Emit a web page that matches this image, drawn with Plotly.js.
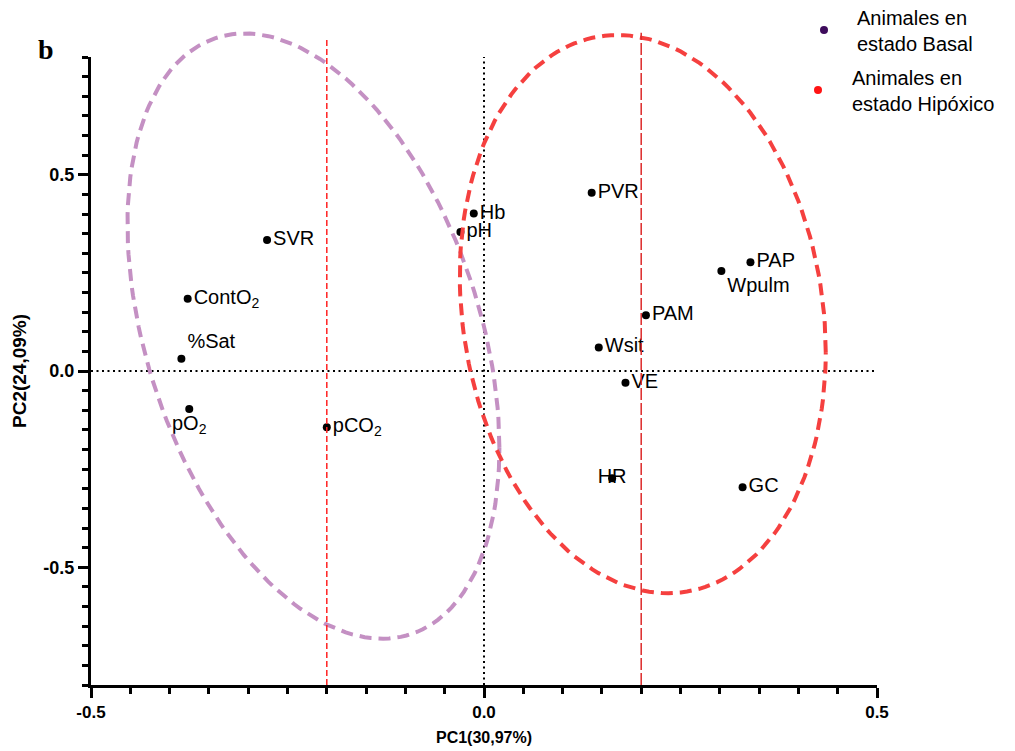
<!DOCTYPE html>
<html><head><meta charset="utf-8">
<script src="https://cdn.plot.ly/plotly-3.0.1.min.js"></script>
<style>html,body{margin:0;padding:0;background:#fff}#chart{width:1015px;height:751px}</style>
</head><body><div id="chart"></div>
<script>
// ---- data ----
const variables = ['SVR','ContO<sub>2</sub>','%Sat','pO<sub>2</sub>','pCO<sub>2</sub>','Hb','pH','PVR','PAP','Wpulm','PAM','Wsit','VE','HR','GC'];
const pc1 = [-0.276,-0.377,-0.385,-0.375,-0.200,-0.013,-0.030,0.137,0.339,0.302,0.206,0.146,0.180,0.163,0.329];
const pc2 = [0.334,0.184,0.031,-0.097,-0.143,0.401,0.354,0.454,0.277,0.255,0.142,0.060,-0.030,-0.273,-0.296];

const groupNames = ['Animales en<br>estado Basal','Animales en<br>estado Hipóxico'];
const groupMeanPC1 = [-0.2, 0.2];
const refLineTop = [0.85, 0.862];
// confidence ellipses: x = cx + hx*cos t ; y = cy + sy*cos t + hy*sin t
const ellipseCenterX = [-0.217, 0.202];
const ellipseCenterY = [0.089, 0.145];
const ellipseHalfX = [0.2366, 0.2328];
const ellipseShearY = [-0.285, -0.0970];
const ellipseHalfY = [0.7164, 0.7044];

const xTickVals = [-0.5, 0, 0.5];
const xTickText = ['-0.5','0.0','0.5'];
const yTickVals = [-0.5, 0, 0.5];
const yTickText = ['-0.5','0.0','0.5'];
const xRange = [-0.5, 0.5];
const yRange = [-0.8, 0.8];

// ---- styles / layout positions (pixels) ----
const labelPositions = ['middle right','middle right','top right','bottom center','middle right','middle right','middle right','middle right','middle right','bottom right','middle right','middle right','middle right','middle center','middle right'];
const groupMarkerColors = ['#3e0b5c','#ff1414'];
const ellipseColors = ['#c490c3','#f5403f'];
const refLineColors = ['#ff2222','#dd2a2a'];
const refLineDash = ['6px,3px','12px,3px'];
const legendMarkerPx = [[824, 30], [818, 90]];
const legendTextLeftPx = [855, 850];
const legendTextMidPx = [31, 91];

const mL = 91, mR = 138, mT = 10, mB = 66, W = 1015, H = 751;
const plotW = W - mL - mR, plotH = H - mT - mB;
const yTopFrac = (H - mB - 57) / plotH;
const y2Max = yRange[0] + (yRange[1] - yRange[0]) / yTopFrac;
const px2paperX = px => (px - mL) / plotW;
const py2paperY = py => (H - mB - py) / plotH;

const traces = [];

for (let g = 0; g < 2; g++) {
  const ex = [], ey = [];
  for (let k = 0; k <= 180; k++) {
    const t = k * 2 * Math.PI / 180;
    ex.push(ellipseCenterX[g] + ellipseHalfX[g] * Math.cos(t));
    ey.push(ellipseCenterY[g] + ellipseShearY[g] * Math.cos(t) + ellipseHalfY[g] * Math.sin(t));
  }
  traces.push({x: ex, y: ey, xaxis: 'x', yaxis: 'y2', mode: 'lines', showlegend: false, hoverinfo: 'skip',
    line: {color: ellipseColors[g], width: 4, dash: '12px,7px'}});
  traces.push({x: [groupMeanPC1[g], groupMeanPC1[g]], y: [yRange[0], refLineTop[g]], xaxis: 'x', yaxis: 'y2',
    mode: 'lines', showlegend: false, hoverinfo: 'skip',
    line: {color: refLineColors[g], width: 1.5, dash: refLineDash[g]}});
}

traces.push({
  x: pc1, y: pc2, text: variables, mode: 'markers+text', textposition: labelPositions,
  xaxis: 'x', yaxis: 'y', showlegend: false, cliponaxis: false,
  marker: {color: '#000', size: 8},
  textfont: {family: '"Liberation Sans", Arial, sans-serif', size: 20, color: '#000'}
});

const axisCommon = {
  ticks: 'outside', ticklen: 10, tickwidth: 3, tickcolor: '#000',
  showline: true, linewidth: 3, linecolor: '#000', showgrid: false, zeroline: false, fixedrange: true,
  tickmode: 'array',
  minor: {tickmode: 'linear', tick0: 0, dtick: 0.05, ticks: 'outside', ticklen: 6, tickwidth: 3, tickcolor: '#000', showgrid: false}
};

const shapes = [
  {type: 'line', xref: 'x', yref: 'y', x0: xRange[0], x1: xRange[1], y0: 0, y1: 0, layer: 'below',
    line: {color: '#000', width: 2, dash: '2px,3.5px'}},
  {type: 'line', xref: 'x', yref: 'y', x0: 0, x1: 0, y0: yRange[0], y1: yRange[1], layer: 'below',
    line: {color: '#000', width: 2, dash: '2px,3.5px'}}
];
const annotations = [
  {text: '<b>b</b>', xref: 'paper', yref: 'paper', x: px2paperX(46), y: py2paperY(49),
    xanchor: 'center', yanchor: 'middle', showarrow: false,
    font: {family: '"Liberation Serif", "Times New Roman", serif', size: 28, color: '#000'}}
];
for (let g = 0; g < 2; g++) {
  shapes.push({type: 'circle', xref: 'paper', yref: 'paper', xsizemode: 'pixel', ysizemode: 'pixel',
    xanchor: px2paperX(legendMarkerPx[g][0]), yanchor: py2paperY(legendMarkerPx[g][1]),
    x0: -4, x1: 4, y0: -4, y1: 4, fillcolor: groupMarkerColors[g], line: {width: 0}});
  annotations.push({text: groupNames[g], xref: 'paper', yref: 'paper', x: px2paperX(legendTextLeftPx[g]),
    y: py2paperY(legendTextMidPx[g]), xanchor: 'left', yanchor: 'middle', align: 'left', showarrow: false,
    font: {family: '"Liberation Sans", Arial, sans-serif', size: 20, color: '#000'}});
}

const layout = {
  width: W, height: H,
  margin: {l: mL, r: mR, t: mT, b: mB},
  paper_bgcolor: '#fff', plot_bgcolor: 'rgba(0,0,0,0)',
  font: {family: '"Liberation Sans", Arial, sans-serif', color: '#000'},
  showlegend: false,
  xaxis: Object.assign({}, axisCommon, {
    domain: [0, 1], range: xRange, anchor: 'y', tickvals: xTickVals, ticktext: xTickText,
    tickfont: {family: '"Liberation Sans Narrow", "Arial Narrow", "Liberation Sans", sans-serif', size: 17, weight: 'bold', color: '#000'},
    title: {text: 'PC1(30,97%)', standoff: 11,
      font: {family: '"Liberation Sans Narrow", "Arial Narrow", "Liberation Sans", sans-serif', size: 16, weight: 'bold', color: '#000'}}
  }),
  yaxis: Object.assign({}, axisCommon, {
    domain: [0, yTopFrac], range: yRange, anchor: 'x', tickvals: yTickVals, ticktext: yTickText,
    tickfont: {family: '"Liberation Sans", Arial, sans-serif', size: 18, weight: 'bold', color: '#000'},
    title: {text: 'PC2(24,09%)', standoff: 12,
      font: {family: '"Liberation Sans", Arial, sans-serif', size: 19, weight: 'bold', color: '#000'}}
  }),
  yaxis2: {domain: [0, 1], range: [yRange[0], y2Max], anchor: 'x', visible: false, fixedrange: true},
  shapes: shapes,
  annotations: annotations
};

Plotly.newPlot('chart', traces, layout, {displayModeBar: false, staticPlot: true});
</script>
</body></html>
